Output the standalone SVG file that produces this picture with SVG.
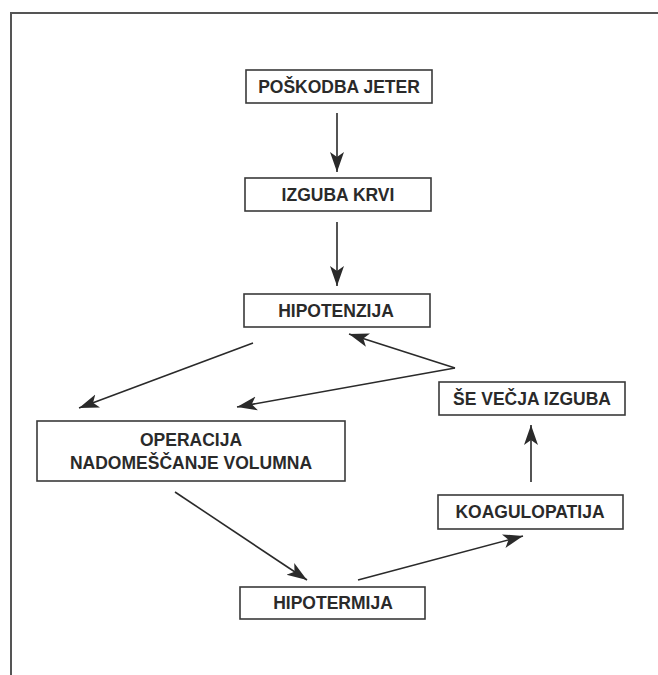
<svg xmlns="http://www.w3.org/2000/svg" width="658" height="675" viewBox="0 0 658 675">
<defs>
<marker id="ah" markerWidth="22" markerHeight="16" refX="20" refY="8" orient="auto" markerUnits="userSpaceOnUse">
<path d="M0,1 L20,8 L0,15 L5,8 Z" fill="#2a2a2a"/>
</marker>
</defs>
<style>
.box{fill:#fff;stroke:#3a3a3a;stroke-width:1.6}
.t{font-family:"Liberation Sans",Arial,sans-serif;font-weight:bold;font-size:17.5px;fill:#2a2a2a;text-anchor:middle}
.c{stroke:#2a2a2a;stroke-width:1.6;fill:none;marker-end:url(#ah)}
.frame{stroke:#555;stroke-width:2;fill:none}
</style>
<rect width="658" height="675" fill="#fff"/>
<path class="frame" d="M11,675 L11,13 L658,13"/>
<g id="connectors">
<line class="c" x1="337" y1="113" x2="337" y2="172"/>
<line class="c" x1="337" y1="222" x2="337" y2="286"/>
<line class="c" x1="253" y1="343" x2="79" y2="408"/>
<line class="c" x1="455" y1="368" x2="349" y2="334"/>
<line class="c" x1="455" y1="368" x2="237" y2="407"/>
<line class="c" x1="531" y1="482" x2="531" y2="425"/>
<line class="c" x1="175" y1="492" x2="307" y2="580"/>
<line class="c" x1="358" y1="580" x2="523" y2="536"/>
</g>
<g id="n1"><rect class="box" x="246" y="70" width="186" height="33"/><text class="t" x="339" y="93">POŠKODBA JETER</text></g>
<g id="n2"><rect class="box" x="245" y="178" width="186" height="33"/><text class="t" x="338" y="201">IZGUBA KRVI</text></g>
<g id="n3"><rect class="box" x="244" y="294" width="186" height="33"/><text class="t" x="336" y="317">HIPOTENZIJA</text></g>
<g id="n4"><rect class="box" x="439" y="382" width="186" height="33"/><text class="t" x="532" y="405">ŠE VEČJA IZGUBA</text></g>
<g id="n5"><rect class="box" x="37" y="421" width="308" height="60"/><text class="t" x="191" y="446">OPERACIJA</text><text class="t" x="191" y="469">NADOMEŠČANJE VOLUMNA</text></g>
<g id="n6"><rect class="box" x="438" y="495" width="185" height="34"/><text class="t" x="530" y="518">KOAGULOPATIJA</text></g>
<g id="n7"><rect class="box" x="240" y="587" width="185" height="32"/><text class="t" x="333" y="609">HIPOTERMIJA</text></g>
</svg>
